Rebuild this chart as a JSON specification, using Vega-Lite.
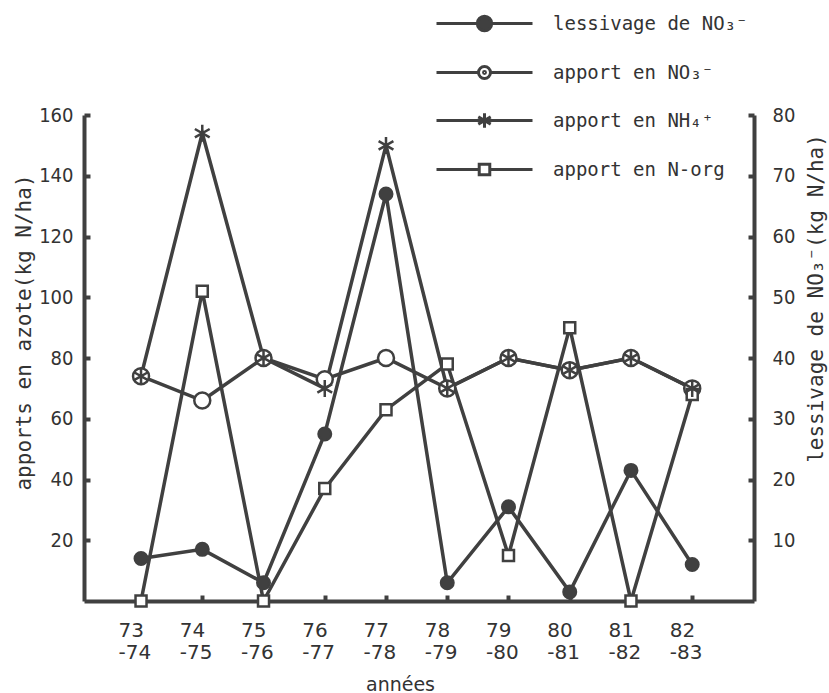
{
  "$schema": "https://vega.github.io/schema/vega-lite/v6.json",
  "width": 670,
  "height": 486,
  "autosize": {"type": "none"},
  "padding": {"left": 84, "top": 115, "right": 75, "bottom": 92},
  "background": "white",
  "config": {
    "view": {"stroke": null},
    "axis": {
      "grid": false,
      "domainColor": "#404040",
      "domainWidth": 4,
      "tickColor": "#404040",
      "tickWidth": 4,
      "labelColor": "#333333",
      "titleColor": "#333333",
      "labelFont": "DejaVu Sans",
      "labelFontSize": 20,
      "titleFontWeight": "normal"
    },
    "legend": {
      "orient": "none",
      "legendX": 375,
      "legendY": -117,
      "title": null,
      "padding": 0,
      "symbolSize": 2304,
      "symbolStrokeWidth": 3,
      "symbolOpacity": 1,
      "labelFont": "DejaVu Sans Mono",
      "labelFontSize": 19,
      "labelColor": "#333333",
      "labelOffset": 43,
      "labelLimit": 400,
      "rowPadding": 10
    }
  },
  "data": {
    "values": [
      {"annee": "73-74", "serie": "lessivage de NO₃⁻", "valeur": 7},
      {"annee": "74-75", "serie": "lessivage de NO₃⁻", "valeur": 8.5},
      {"annee": "75-76", "serie": "lessivage de NO₃⁻", "valeur": 3},
      {"annee": "76-77", "serie": "lessivage de NO₃⁻", "valeur": 27.5},
      {"annee": "77-78", "serie": "lessivage de NO₃⁻", "valeur": 67},
      {"annee": "78-79", "serie": "lessivage de NO₃⁻", "valeur": 3},
      {"annee": "79-80", "serie": "lessivage de NO₃⁻", "valeur": 15.5},
      {"annee": "80-81", "serie": "lessivage de NO₃⁻", "valeur": 1.5},
      {"annee": "81-82", "serie": "lessivage de NO₃⁻", "valeur": 21.5},
      {"annee": "82-83", "serie": "lessivage de NO₃⁻", "valeur": 6},
      {"annee": "73-74", "serie": "apport en NO₃⁻", "valeur": 74},
      {"annee": "74-75", "serie": "apport en NO₃⁻", "valeur": 66},
      {"annee": "75-76", "serie": "apport en NO₃⁻", "valeur": 80},
      {"annee": "76-77", "serie": "apport en NO₃⁻", "valeur": 73},
      {"annee": "77-78", "serie": "apport en NO₃⁻", "valeur": 80},
      {"annee": "78-79", "serie": "apport en NO₃⁻", "valeur": 70},
      {"annee": "79-80", "serie": "apport en NO₃⁻", "valeur": 80},
      {"annee": "80-81", "serie": "apport en NO₃⁻", "valeur": 76},
      {"annee": "81-82", "serie": "apport en NO₃⁻", "valeur": 80},
      {"annee": "82-83", "serie": "apport en NO₃⁻", "valeur": 70},
      {"annee": "73-74", "serie": "apport en NH₄⁺", "valeur": 74},
      {"annee": "74-75", "serie": "apport en NH₄⁺", "valeur": 154},
      {"annee": "75-76", "serie": "apport en NH₄⁺", "valeur": 80},
      {"annee": "76-77", "serie": "apport en NH₄⁺", "valeur": 70},
      {"annee": "77-78", "serie": "apport en NH₄⁺", "valeur": 150},
      {"annee": "78-79", "serie": "apport en NH₄⁺", "valeur": 70},
      {"annee": "79-80", "serie": "apport en NH₄⁺", "valeur": 80},
      {"annee": "80-81", "serie": "apport en NH₄⁺", "valeur": 76},
      {"annee": "81-82", "serie": "apport en NH₄⁺", "valeur": 80},
      {"annee": "82-83", "serie": "apport en NH₄⁺", "valeur": 70},
      {"annee": "73-74", "serie": "apport en N-org", "valeur": 0},
      {"annee": "74-75", "serie": "apport en N-org", "valeur": 102},
      {"annee": "75-76", "serie": "apport en N-org", "valeur": 0},
      {"annee": "76-77", "serie": "apport en N-org", "valeur": 37},
      {"annee": "77-78", "serie": "apport en N-org", "valeur": 63},
      {"annee": "78-79", "serie": "apport en N-org", "valeur": 78},
      {"annee": "79-80", "serie": "apport en N-org", "valeur": 15},
      {"annee": "80-81", "serie": "apport en N-org", "valeur": 90},
      {"annee": "81-82", "serie": "apport en N-org", "valeur": 0},
      {"annee": "82-83", "serie": "apport en N-org", "valeur": 68}
    ]
  },
  "encoding": {
    "x": {
      "field": "annee",
      "type": "ordinal",
      "scale": {"type": "point", "padding": 0.97, "align": 0.48},
      "axis": {
        "labelAngle": 0,
        "labelExpr": "[slice(datum.label,0,2), '-' + slice(datum.label,3)]",
        "labelAlign": "left",
        "labelBaseline": "top",
        "labelOffset": -23,
        "labelPadding": 25,
        "labelLineHeight": 22,
        "tickSize": -6,
        "title": "années",
        "titleFont": "DejaVu Sans",
        "titleFontSize": 19,
        "titleX": 316,
        "titleY": 89,
        "titleBaseline": "alphabetic",
        "titleAlign": "center"
      }
    }
  },
  "layer": [
    {
      "transform": [{"filter": "datum.serie != 'lessivage de NO₃⁻'"}],
      "encoding": {
        "y": {
          "field": "valeur",
          "type": "quantitative",
          "scale": {"domain": [0, 160], "nice": false, "zero": true},
          "axis": {
            "orient": "left",
            "values": [20, 40, 60, 80, 100, 120, 140, 160],
            "tickSize": -6,
            "labelPadding": 17,
            "labelFont": "DejaVu Sans Condensed",
            "title": "apports en azote(kg N/ha)",
            "titleFont": "DejaVu Sans Mono",
            "titleFontSize": 21,
            "titleX": -60,
            "titleY": 217,
            "titleAngle": -90,
            "titleBaseline": "middle",
            "titleAlign": "center"
          }
        }
      },
      "layer": [
        {
          "mark": {"type": "line", "color": "#404040", "strokeWidth": 3.5},
          "encoding": {"detail": {"field": "serie"}}
        },
        {
          "transform": [{"filter": "datum.serie == 'apport en NO₃⁻'"}],
          "mark": {"type": "point", "shape": "M0.8,0A0.8,0.8 0 1,1 -0.8,0A0.8,0.8 0 1,1 0.8,0Z", "filled": true, "fill": "white", "stroke": "#404040", "strokeWidth": 2.5, "size": 400, "opacity": 1}
        },
        {
          "transform": [{"filter": "datum.serie == 'apport en N-org'"}],
          "mark": {"type": "point", "shape": "M-0.55,-0.55H0.55V0.55H-0.55Z", "filled": true, "fill": "white", "stroke": "#404040", "strokeWidth": 2.5, "size": 400, "opacity": 1}
        },
        {
          "transform": [{"filter": "datum.serie == 'apport en NH₄⁺'"}],
          "mark": {"type": "point", "shape": "M0,-0.85V0.85M-0.74,-0.42L0.74,0.42M-0.74,0.42L0.74,-0.42", "filled": false, "stroke": "#404040", "strokeWidth": 2.5, "size": 400, "opacity": 1}
        }
      ]
    },
    {
      "transform": [{"filter": "datum.serie == 'lessivage de NO₃⁻'"}],
      "encoding": {
        "y": {
          "field": "valeur",
          "type": "quantitative",
          "scale": {"domain": [0, 80], "nice": false, "zero": true},
          "axis": {
            "orient": "right",
            "values": [10, 20, 30, 40, 50, 60, 70, 80],
            "tickSize": -6,
            "labelPadding": 24,
            "labelFont": "DejaVu Sans Condensed",
            "title": "lessivage de NO₃⁻(kg N/ha)",
            "titleFont": "DejaVu Sans Mono",
            "titleFontSize": 21,
            "titleX": 62,
            "titleY": 183,
            "titleAngle": -90,
            "titleBaseline": "middle",
            "titleAlign": "center"
          }
        }
      },
      "layer": [
        {
          "mark": {"type": "line", "color": "#404040", "strokeWidth": 3.5},
          "encoding": {}
        },
        {
          "mark": {"type": "point", "shape": "M0.65,0A0.65,0.65 0 1,1 -0.65,0A0.65,0.65 0 1,1 0.65,0Z", "filled": true, "fill": "#404040", "stroke": "#404040", "strokeWidth": 2, "size": 400, "opacity": 1}
        }
      ]
    },
    {
      "transform": [{"filter": "false"}],
      "mark": {"type": "point", "filled": true, "strokeWidth": 3, "opacity": 1},
      "encoding": {
        "shape": {
          "field": "serie",
          "type": "nominal",
          "scale": {
            "domain": ["lessivage de NO₃⁻", "apport en NO₃⁻", "apport en NH₄⁺", "apport en N-org"],
            "range": [
              "M-2,0H2M0.3,0A0.3,0.3 0 1,1 -0.3,0A0.3,0.3 0 1,1 0.3,0Z",
              "M-2,0H-0.25M0.25,0H2M0.25,0A0.25,0.25 0 1,1 -0.25,0A0.25,0.25 0 1,1 0.25,0ZM0.04,0A0.04,0.04 0 1,1 -0.04,0A0.04,0.04 0 1,1 0.04,0Z",
              "M-2,0H2M0,-0.3V0.3M-0.26,-0.15L0.26,0.15M-0.26,0.15L0.26,-0.15",
              "M-2,0H-0.22M0.22,0H2M-0.22,-0.22H0.22V0.22H-0.22Z"
            ]
          }
        },
        "fill": {
          "field": "serie",
          "type": "nominal",
          "scale": {
            "domain": ["lessivage de NO₃⁻", "apport en NO₃⁻", "apport en NH₄⁺", "apport en N-org"],
            "range": ["#404040", "white", "white", "white"]
          }
        },
        "stroke": {
          "field": "serie",
          "type": "nominal",
          "scale": {
            "domain": ["lessivage de NO₃⁻", "apport en NO₃⁻", "apport en NH₄⁺", "apport en N-org"],
            "range": ["#404040", "#404040", "#404040", "#404040"]
          }
        }
      }
    }
  ],
  "resolve": {"scale": {"y": "independent"}}
}
